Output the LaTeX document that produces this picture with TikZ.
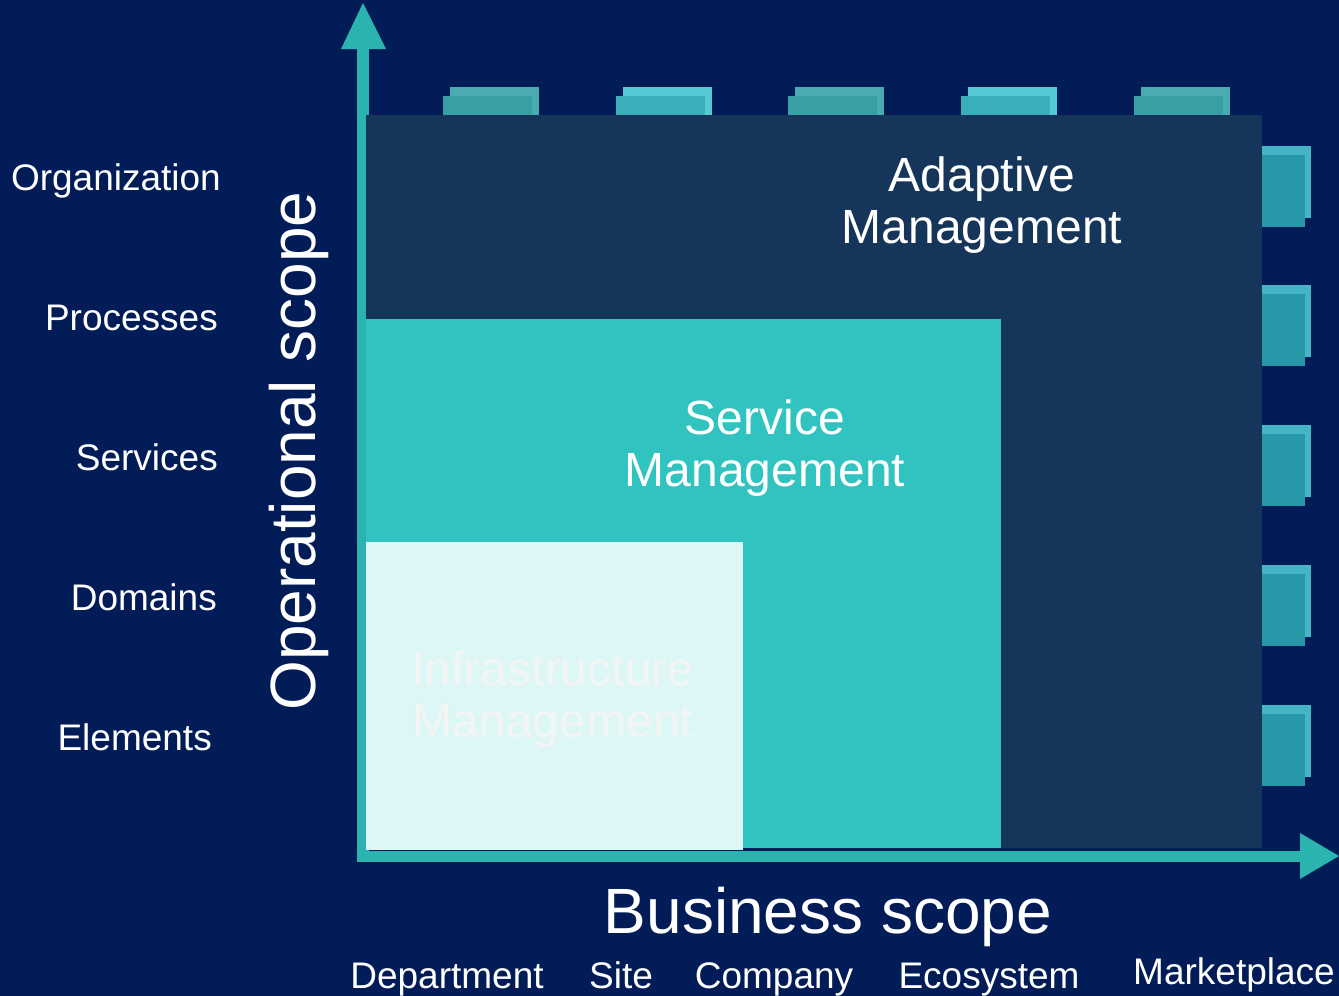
\documentclass[tikz,border=0pt]{standalone}
\usepackage{fontspec}
\setmainfont{Liberation Sans}
\definecolor{bgnavy}{HTML}{011C57}
\definecolor{darkbox}{HTML}{16355A}
\definecolor{tealbox}{HTML}{30C3C0}
\definecolor{palebox}{HTML}{DDF6F6}
\definecolor{axisteal}{HTML}{2BB3AF}
\definecolor{infratext}{HTML}{F3F5F5}
\definecolor{tabbackA}{HTML}{4AABB0}
\definecolor{tabfrontA}{HTML}{389FA5}
\definecolor{tabbackB}{HTML}{55C9D4}
\definecolor{tabfrontB}{HTML}{3AAFBB}
\definecolor{rtabback}{HTML}{45B4C4}
\definecolor{rtabfront}{HTML}{2898A8}
\begin{document}
\begin{tikzpicture}[x=1pt,y=-1pt,
  lbl/.style={inner sep=0pt,text=white,font=\fontsize{37}{44}\selectfont},
  bigaxis/.style={inner sep=0pt,text=white,font=\fontsize{64}{70}\selectfont},
  boxtitle/.style={inner sep=0pt,align=center,font=\fontsize{48}{52}\selectfont},
  axisbar/.style={fill=axisteal,draw=none}]
\fill[bgnavy] (0,0) rectangle (1339,996);
\useasboundingbox (0,0) rectangle (1339,996);
% top tabs
\foreach \x/\b/\f in {443/tabbackA/tabfrontA,616/tabbackB/tabfrontB,788/tabbackA/tabfrontA,961/tabbackB/tabfrontB,1134/tabbackA/tabfrontA}{
  \fill[\b] (\x+7,87) rectangle (\x+96,118);
  \fill[\f] (\x,96) rectangle (\x+89,118);
}
% right tabs
\foreach \y in {155,294,434,574,714}{
  \fill[rtabback] (1258,\y-9) rectangle (1311,\y+63);
  \fill[rtabfront] (1258,\y) rectangle (1305,\y+72);
}
% axes
\fill[axisteal] (357,49) rectangle (369,862);
\fill[axisteal] (357,851) rectangle (1302,862);
\coordinate (ytip) at (363,3);
\coordinate (xtip) at (1339,856);
\fill[axisteal] (341,49) -- (ytip) -- (386,49) -- cycle;
\fill[axisteal] (1300,833) -- (xtip) -- (1300,879) -- cycle;
% boxes
\node[fill=darkbox,inner sep=0pt,minimum width=896pt,minimum height=733pt,anchor=north west] (adaptive) at (366,115) {};
\node[fill=tealbox,inner sep=0pt,minimum width=635pt,minimum height=529pt,anchor=north west] (service) at (366,319) {};
\node[fill=palebox,inner sep=0pt,minimum width=377pt,minimum height=308pt,anchor=north west] (infra) at (366,542) {};
% box titles
\node[boxtitle,text=white] (adaptiveT) at (982,205) {Adaptive\\Management};
\node[boxtitle,text=white] (serviceT) at (765,448) {Service\\Management};
\node[boxtitle,text=infratext] (infraT) at (553,699) {Infrastructure\\Management};
% left labels
\node[lbl,anchor=base east] (org) at (221,190) {Organization};
\node[lbl,anchor=base east] (proc) at (218,330) {Processes};
\node[lbl,anchor=base east] (serv) at (218,470) {Services};
\node[lbl,anchor=base east] (dom) at (217,610) {Domains};
\node[lbl,anchor=base east] (elem) at (212,750) {Elements};
% axis titles
\node[bigaxis,rotate=90,anchor=base] (opscope) at (315,451) {Operational scope};
\node[bigaxis,anchor=base] (busscope) at (828,933) {Business scope};
% bottom labels
\node[lbl,anchor=base] (dept) at (447,988) {Department};
\node[lbl,anchor=base] (site) at (621,988) {Site};
\node[lbl,anchor=base] (comp) at (774,988) {Company};
\node[lbl,anchor=base] (eco) at (989,988) {Ecosystem};
\node[lbl,anchor=base] (market) at (1234,984) {Marketplace};
\end{tikzpicture}
\end{document}
